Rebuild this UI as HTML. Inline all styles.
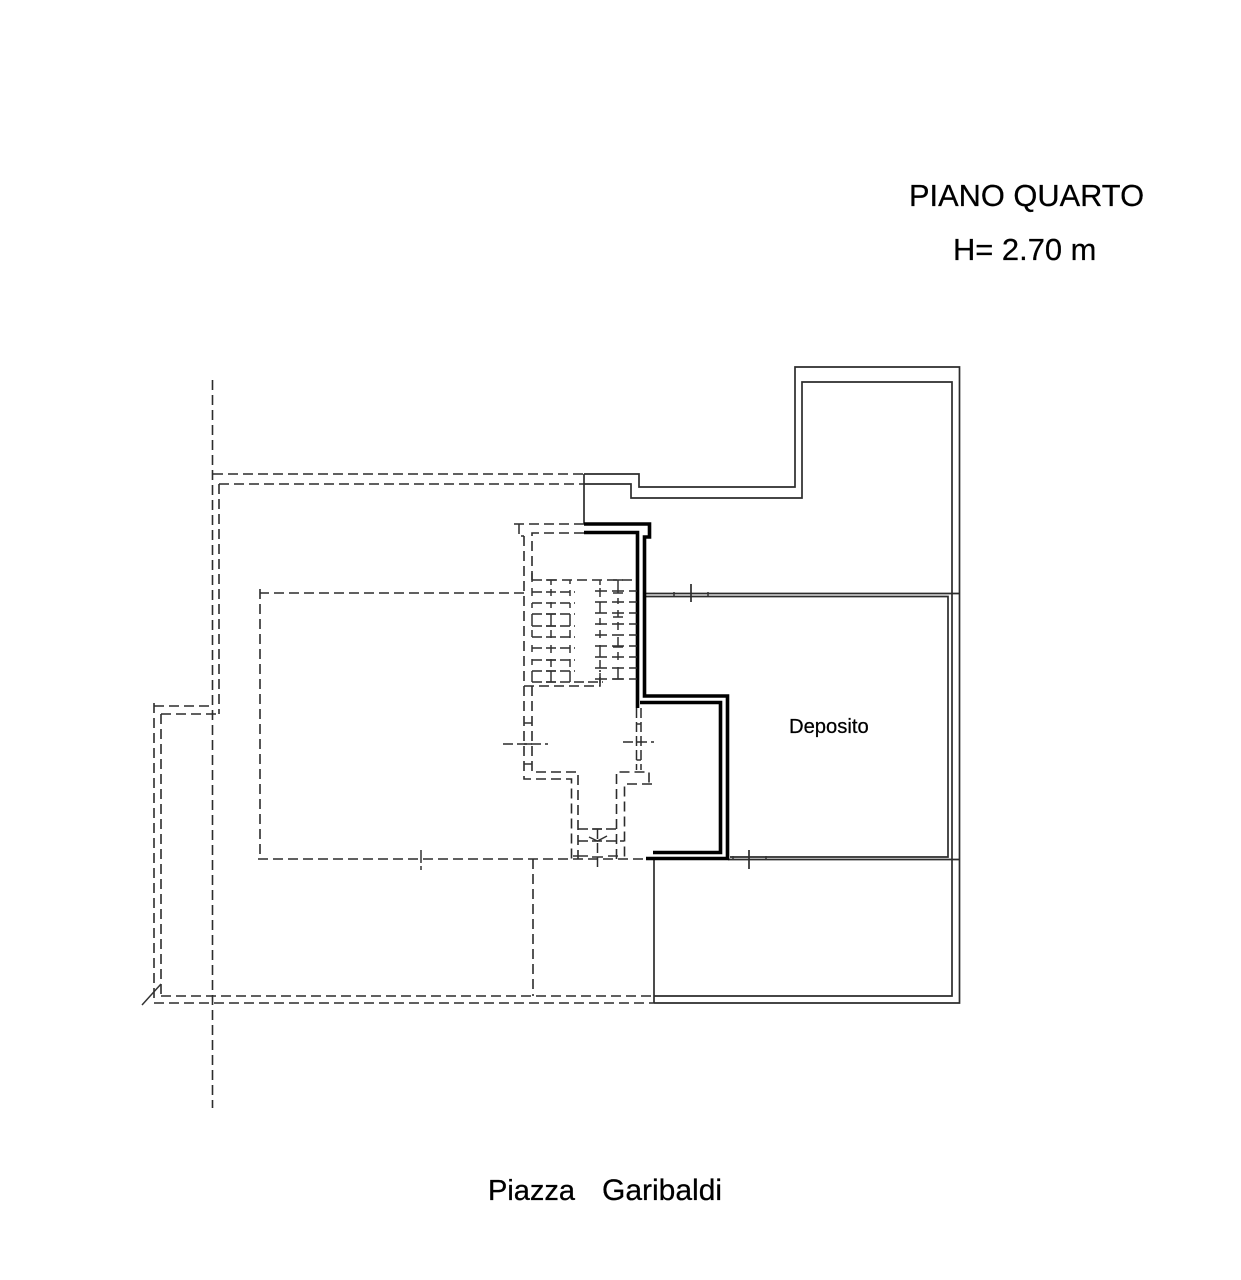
<!DOCTYPE html>
<html>
<head>
<meta charset="utf-8">
<style>
html,body{margin:0;padding:0;background:#fff;width:1241px;height:1280px;overflow:hidden}
svg{display:block}
text{font-family:"Liberation Sans",Arial,sans-serif;fill:#000;stroke:#000;stroke-width:.25}
.s{fill:none;stroke:#2c2c2c;stroke-width:1.7}
.d{fill:none;stroke:#2c2c2c;stroke-width:1.6;stroke-dasharray:10 5}
.t{fill:none;stroke:#2c2c2c;stroke-width:1.5;stroke-dasharray:10 4}
.r{fill:none;stroke:#2c2c2c;stroke-width:1.5;stroke-dasharray:12 5}
.k{fill:none;stroke:#333;stroke-width:1.5}
.b{fill:none;stroke:#000;stroke-width:3.6;stroke-linejoin:miter}
</style>
</head>
<body>
<svg width="1241" height="1280" viewBox="0 0 1241 1280" xmlns="http://www.w3.org/2000/svg">
<rect width="1241" height="1280" fill="#fff"/>

<text x="909" y="206" font-size="30.8">PIANO QUARTO</text>
<text x="953" y="260" font-size="30.9">H= 2.70 m</text>
<text x="488" y="1200" font-size="29">Piazza</text>
<text x="602" y="1200" font-size="30">Garibaldi</text>
<text x="789" y="733" font-size="20.2">Deposito</text>

<!-- solid outer walls -->
<path class="s" d="M584 474H639V487H795V367H959.5V1003H654"/>
<path class="s" d="M584 484H631V498H802V382H952V996H654"/>
<path class="s" d="M584 474V524"/>
<path class="s" d="M654 859V1003"/>
<path class="s" d="M645 593.5H959.5"/>
<path class="s" d="M645 596.5H948V857H730"/>
<path class="s" d="M728 859.5H959.5"/>
<path class="s" d="M691 584V602"/>
<path class="s" d="M749 850V869"/>
<path class="k" d="M674 592v4M708 592v4M733 856v4M766 856v4"/>

<!-- thick walls -->
<path class="b" d="M584 524H649.5V537H644.5V696H727.5V858.5H646"/>
<path class="b" d="M584 532.5H637.5V708"/>
<path class="b" d="M640 702.5H720.5V852.5H653"/>

<!-- long dashed outlines -->
<path class="d" d="M213 474H584"/>
<path class="d" d="M219 484H584"/>
<path class="d" d="M212.500 380V1108"/>
<path class="d" d="M219 484V714"/>
<path class="d" d="M154 706H213"/>
<path class="d" d="M161 714H219"/>
<path class="d" d="M154 703V1003"/>
<path class="d" d="M161 714V996"/>
<path class="d" d="M161 996H654"/>
<path class="d" d="M154 1003H654"/>
<path class="k" d="M142 1005L161 984"/>
<path class="d" d="M524 593H260"/>
<path class="d" d="M260 589V859"/>
<path class="d" d="M258 859H646"/>
<path class="d" d="M533 859V996"/>
<path class="k" d="M421 850V863M421 866V870"/>

<!-- stairwell walls -->
<path class="d" d="M584 524H513"/>
<path class="t" d="M519 524V536H524"/>
<path class="d" d="M524 536V779H571.500V859"/>
<path class="d" d="M584 533H532V580"/>
<path class="d" d="M532 580H637"/>
<path class="d" d="M532 686V772H578V859"/>
<path class="d" d="M524 686H600V670"/>
<path class="t" d="M532 682H603"/>

<!-- left stair rows -->
<path class="t" d="M532 592H575M532 603H575M532 614H575M532 626H575M532 637H575M532 648H575M532 660H575M532 671H575"/>
<path class="k" d="M532 573V582M532 588V596M532 603V608M532 614V626M532 630V637M532 645V652M532 659V665M532 671V682"/>
<path class="k" d="M551 580V585M551 589V596M551 602V608M551 614V626M551 630V638M551 645V653M551 659V667M551 671V682"/>
<path class="k" d="M570 580V584M570 590V596M570 603V608M570 614V626M570 630V638M570 645V653M570 659V667M570 671V682"/>
<path class="k" d="M546 580H556M546 614H556M546 626H556M546 660H556M546 671H556M546 682H556"/>

<!-- right stair rows -->
<path class="r" d="M595 591H637M595 602H637M595 613H637M595 624H637M595 635H637M595 646H637M595 657H637M595 668H637M595 679H637"/>
<path class="k" d="M600 580V585M600 588V597M600 602V613M600 618V625M600 630V638M600 645V657M600 660V668M600 673V683"/>
<path class="k" d="M618 580V593M618 598V604M618 610V617M618 622V630M618 637V647M618 652V660M618 667V679"/>
<path class="k" d="M613 580H623M613 593H623M613 617H623M613 647H623M613 679H623"/>

<!-- left door -->
<path class="k" d="M524 723H532M524 744H532M524 764H532"/>
<path class="t" d="M503 744H548"/>

<!-- right door -->
<path class="t" d="M636.500 708V770"/>
<path class="t" d="M641 708V770"/>
<path class="k" d="M636.500 724H641M636.500 760H641"/>
<path class="t" d="M623 742H654"/>

<!-- corridor -->
<path class="d" d="M616.500 859V772H649V784"/>
<path class="d" d="M652 784H624.500V859"/>
<path class="t" d="M578 829H617"/>
<path class="t" d="M578 841H624"/>
<path class="t" d="M597.500 829V870"/>
<path class="k" d="M593 829H602M589 837L597.500 841L607 836"/>
<path class="k" d="M573 856H588M592 857H603M608 856H618"/>
</svg>
</body>
</html>
